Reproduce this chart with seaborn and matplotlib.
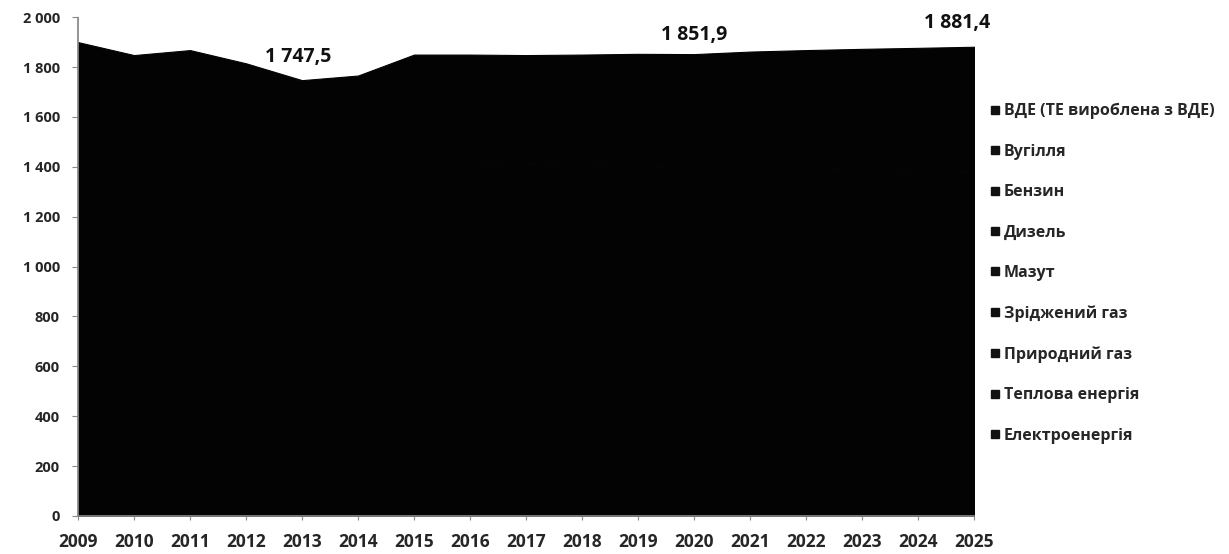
import matplotlib
matplotlib.use("Agg")
import matplotlib.pyplot as plt
from matplotlib.lines import Line2D
import seaborn as sns
import pandas as pd

years = list(range(2009, 2026))

# Energy consumption by carrier (stacked, bottom to top)
electricity = [470, 455, 465, 460, 450, 440, 455, 460, 462, 465, 468, 470, 474, 478, 482, 486, 490]
heat = [560, 545, 548, 530, 505, 500, 520, 515, 510, 505, 500, 495, 490, 485, 480, 475, 470]
natural_gas = [420, 410, 412, 400, 385, 390, 405, 405, 402, 400, 398, 395, 392, 390, 387, 384, 380]
lpg = [25, 25, 26, 26, 27, 28, 30, 31, 32, 33, 34, 35, 36, 37, 38, 39, 40]
fuel_oil = [20, 18, 17, 15, 13, 12, 10, 9, 8, 8, 7, 7, 6, 6, 5, 5, 5]
diesel = [95, 97, 100, 102, 104, 106, 108, 110, 112, 114, 115, 116, 117, 118, 119, 120, 121]
petrol = [70, 70, 70, 69, 68, 68, 68, 67, 67, 66, 66, 65, 65, 64, 64, 63, 63]
coal = [90, 88, 85, 80, 75, 72, 70, 68, 65, 62, 60, 58, 56, 54, 52, 50, 48]
renewables = [150, 140, 145, 133, 120.5, 150, 184, 185, 190, 197, 205, 210.9, 226, 236, 246, 255, 264.4]

series_names = [
    "Електроенергія",
    "Теплова енергія",
    "Природний газ",
    "Зріджений газ",
    "Мазут",
    "Дизель",
    "Бензин",
    "Вугілля",
    "ВДЕ (ТЕ вироблена з ВДЕ)",
]
series_values = [electricity, heat, natural_gas, lpg, fuel_oil, diesel, petrol, coal, renewables]

labelled_years = [2013, 2020, 2025]
y_ticks = list(range(0, 2001, 200))
y_tick_labels = ["0", "200", "400", "600", "800", "1 000", "1 200", "1 400", "1 600", "1 800", "2 000"]

df = pd.DataFrame(dict(zip(series_names, series_values)), index=years)
totals = df.sum(axis=1)

sns.set_theme(style="white")
plt.rcParams["font.family"] = ["Open Sans", "DejaVu Sans"]
plt.rcParams["font.weight"] = "bold"

fig = plt.figure(figsize=(12.29, 5.54), dpi=100)
ax = fig.add_axes([0.0635, 0.0686, 0.7290, 0.9004])

fill = "#030303"
ax.stackplot(df.index, [df[c].values for c in series_names],
             colors=[fill] * len(series_names),
             linewidth=0.8, edgecolor=fill)

ax.set_xlim(2009, 2025)
ax.set_ylim(0, 2000)
ax.set_xticks(years)
ax.set_xticklabels([str(y) for y in years], fontsize=12.5, fontweight="bold")
ax.set_yticks(y_ticks)
ax.set_yticklabels(y_tick_labels, fontsize=10.5, fontweight="bold")
ax.tick_params(axis="y", which="major", length=4, width=0.8, color="#888888",
               direction="out", left=True, pad=9)
ax.tick_params(axis="x", which="major", length=3, width=0.8, color="#888888",
               direction="out", bottom=True, pad=9)

for side in ["top", "right"]:
    ax.spines[side].set_visible(False)
for side in ["left", "bottom"]:
    ax.spines[side].set_color("#888888")
    ax.spines[side].set_linestyle((0, (1, 1)))

def fmt(v):
    whole = int(v)
    frac = round((v - whole) * 10)
    s = f"{whole:,}".replace(",", " ")
    return f"{s},{frac}"

offsets = {2013: (-3, 17), 2020: (0, 14), 2025: (-12, 17)}
for yr in labelled_years:
    dx, dy = offsets[yr]
    ax.annotate(fmt(totals[yr]), xy=(yr, totals[yr]), xytext=(dx, dy),
                textcoords="offset points", ha="center", va="center",
                fontsize=14, fontweight="bold", color="#111111",
                annotation_clip=False)

handles = [Line2D([0], [0], marker="s", linestyle="none", markersize=6,
                  markerfacecolor="#111111", markeredgecolor="#111111")
           for _ in series_names]
legend = fig.legend(handles[::-1], series_names[::-1], loc="upper left",
                    bbox_to_anchor=(0.791, 0.84), frameon=False,
                    prop={"size": 11.5, "weight": "bold"},
                    labelspacing=1.53, handletextpad=0.1, handlelength=1.0)

fig.savefig("out.png", dpi=100)
